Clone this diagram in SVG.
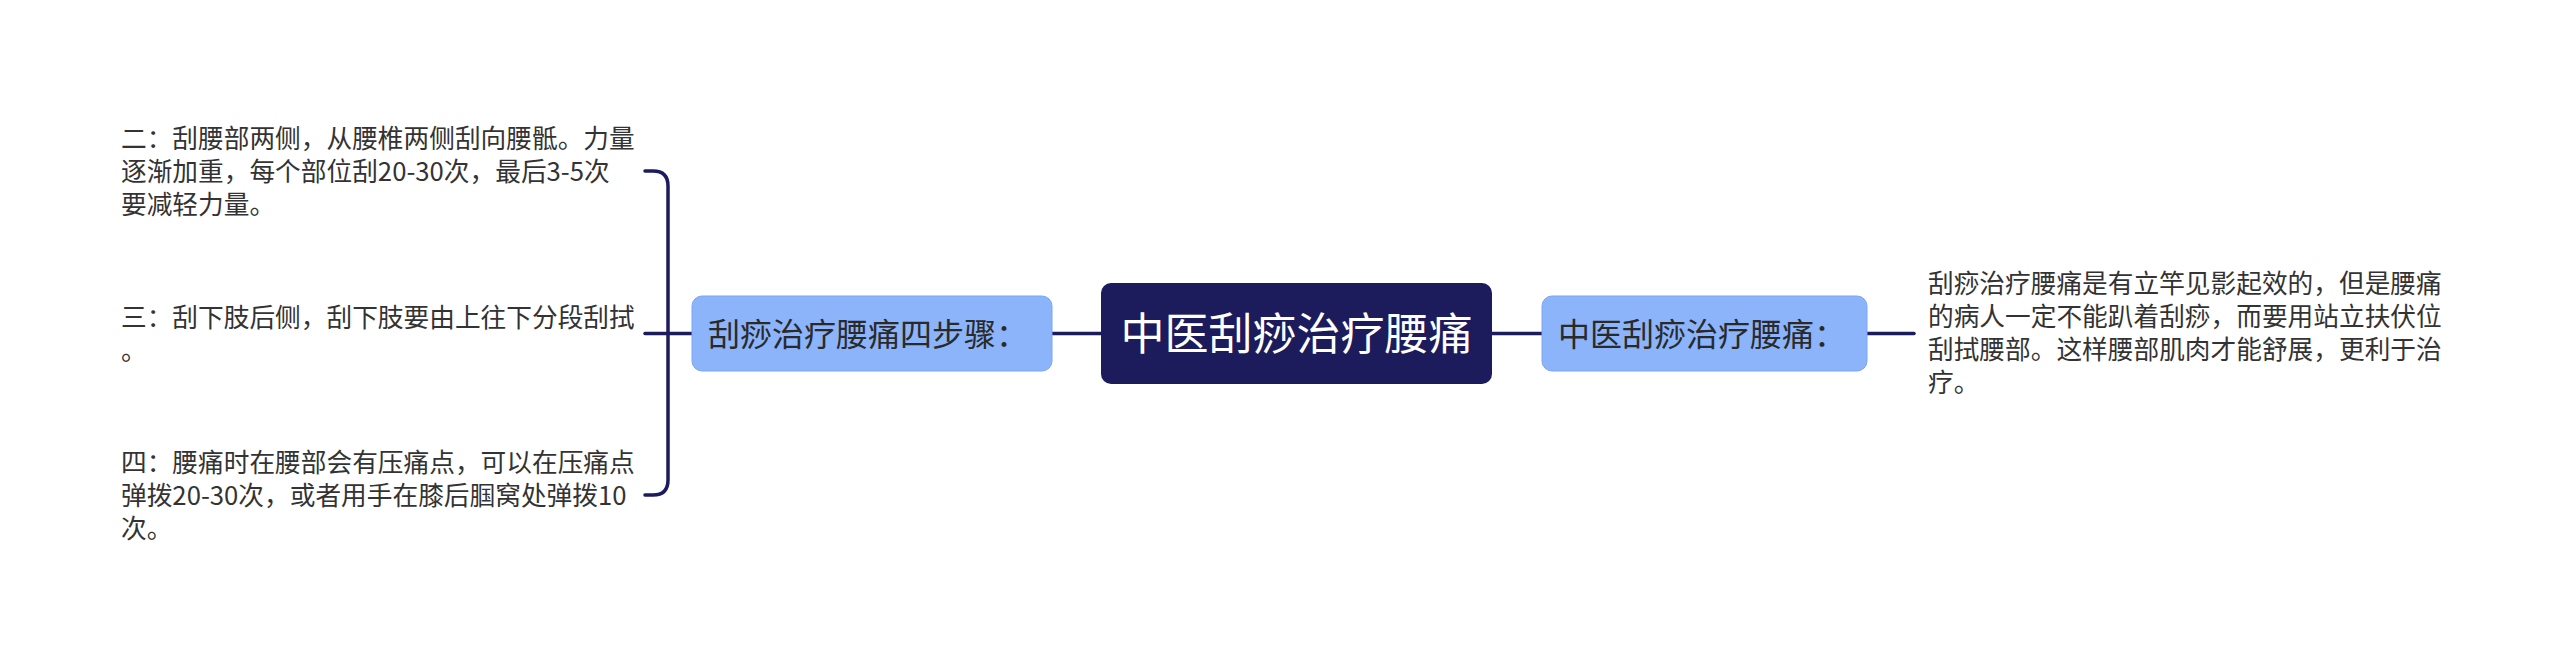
<svg xmlns="http://www.w3.org/2000/svg" width="2560" height="667" viewBox="0 0 2560 667">
<style>
.t{font-family:"Microsoft YaHei","Noto Sans CJK SC",sans-serif;fill:#333333;font-size:25.7px}
.nt{font-family:"Microsoft YaHei","Noto Sans CJK SC",sans-serif;fill:#2a2a2a;font-size:32px}
.ct{font-family:"Microsoft YaHei","Noto Sans CJK SC",sans-serif;fill:#ffffff;font-size:44px}
.sub{fill:#8cb4fb;stroke:#7aa6f2;stroke-width:1}
.line{fill:none;stroke:#1c1b5b;stroke-width:3.5;stroke-linecap:round}
</style>
<rect width="2560" height="667" fill="#ffffff"/>
<g id="connectors">
<path class="line" d="M1101,333.5 H1052"/>
<path class="line" d="M1492,333.5 H1542"/>
<path class="line" d="M1867,333.5 H1914"/>
<path class="line" d="M692,333.5 H645"/>
<path class="line" d="M645,171 H653 Q668,171 668,186 V480 Q668,495 653,495 H645"/>
</g>
<g id="root">
<rect x="1101" y="283" width="391" height="101" rx="10" fill="#1c1b5b"/>
<text class="ct" x="1296.5" y="350" text-anchor="middle">中医刮痧治疗腰痛</text>
</g>
<g id="steps">
<rect class="sub" x="692" y="296" width="360" height="75" rx="10"/>
<text class="nt" x="708" y="345.5">刮痧治疗腰痛四步骤：</text>
</g>
<g id="intro">
<rect class="sub" x="1542" y="296" width="325" height="75" rx="10"/>
<text class="nt" x="1558" y="345.5">中医刮痧治疗腰痛：</text>
</g>
<g id="step2">
<text class="t" x="121"><tspan x="121" y="148">二：刮腰部两侧，从腰椎两侧刮向腰骶。力量</tspan><tspan x="121" y="181">逐渐加重，每个部位刮20-30次，最后3-5次</tspan><tspan x="121" y="214">要减轻力量。</tspan></text>
</g>
<g id="step3">
<text class="t" x="121"><tspan x="121" y="327">三：刮下肢后侧，刮下肢要由上往下分段刮拭</tspan><tspan x="121" y="360">。</tspan></text>
</g>
<g id="step4">
<text class="t" x="121"><tspan x="121" y="472">四：腰痛时在腰部会有压痛点，可以在压痛点</tspan><tspan x="121" y="505">弹拨20-30次，或者用手在膝后腘窝处弹拨10</tspan><tspan x="121" y="538">次。</tspan></text>
</g>
<g id="detail">
<text class="t" x="1928"><tspan x="1928" y="293">刮痧治疗腰痛是有立竿见影起效的，但是腰痛</tspan><tspan x="1928" y="326">的病人一定不能趴着刮痧，而要用站立扶伏位</tspan><tspan x="1928" y="359">刮拭腰部。这样腰部肌肉才能舒展，更利于治</tspan><tspan x="1928" y="392">疗。</tspan></text>
</g>
</svg>
